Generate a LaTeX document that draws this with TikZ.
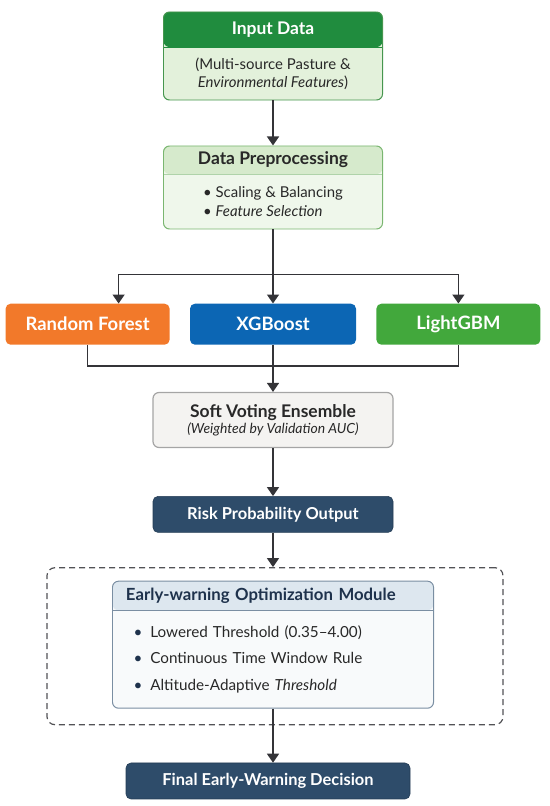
\documentclass[tikz,border=0pt]{standalone}
\usepackage{fontspec}
\setmainfont{Lato}
\definecolor{ingreen}{RGB}{32, 140, 62}
\definecolor{inbody}{RGB}{227, 241, 219}
\definecolor{inborder}{RGB}{70, 150, 78}
\definecolor{prehead}{RGB}{214, 234, 204}
\definecolor{prebody}{RGB}{239, 247, 235}
\definecolor{preborder}{RGB}{122, 182, 112}
\definecolor{rforange}{RGB}{242, 121, 42}
\definecolor{xgblue}{RGB}{12, 102, 180}
\definecolor{lggreen}{RGB}{66, 168, 60}
\definecolor{softfill}{RGB}{244, 243, 241}
\definecolor{softborder}{RGB}{165, 165, 165}
\definecolor{navy}{RGB}{46, 76, 106}
\definecolor{modhead}{RGB}{221, 231, 239}
\definecolor{modbody}{RGB}{248, 250, 251}
\definecolor{modborder}{RGB}{122, 142, 162}
\definecolor{modtext}{RGB}{30, 50, 76}
\definecolor{darktext}{RGB}{40, 40, 40}
\definecolor{linegray}{RGB}{52, 52, 56}
\usetikzlibrary{arrows.meta, positioning, fit}
\tikzset{
	card/.style={rectangle, rounded corners=6pt, line width=1pt, inner sep=0pt},
	headband/.style n args={3}{path picture={
		\fill[#1] (path picture bounding box.north west) rectangle ([yshift=-#2]path picture bounding box.north east);
		\draw[#3, line width=1pt] ([yshift=-#2]path picture bounding box.north west) -- ([yshift=-#2]path picture bounding box.north east);}},
	cardtitle/.style={inner sep=0pt, font=\bfseries\fontsize{17.5}{20}\selectfont},
	cardtext/.style={inner sep=0pt, text=darktext, font=\fontsize{15}{18.5}\selectfont},
	model/.style={rectangle, rounded corners=5pt, minimum height=41bp, text=white, font=\bfseries\fontsize{18.5}{22}\selectfont},
	darkbox/.style={rectangle, rounded corners=5pt, draw=navy!80!black, line width=0.6pt, fill=navy, minimum width=240bp, minimum height=36bp, text=white, font=\bfseries\fontsize{16.5}{19}\selectfont},
	zoneframe/.style={rectangle, rounded corners=8pt, draw=linegray!85, line width=1.2pt, dash pattern=on 6bp off 4bp, inner sep=0pt},
	arrow/.style={-{Triangle[length=9bp, width=12bp]}, line width=1.5pt, draw=linegray},
	link/.style={line width=1.5pt, draw=linegray},
}
\begin{document}
\begin{tikzpicture}[x=1bp, y=1bp, node distance=45bp and 20bp]
	\useasboundingbox (0,0) rectangle (550,-806);
	% input and preprocessing
	\node[card, draw=inborder, fill=inbody, headband={ingreen}{35bp}{ingreen}, minimum width=219bp, minimum height=88bp] (input) at (273,-56) {};
	\node[cardtitle, text=white, minimum height=35bp, below=0bp of input.north] (inputtitle) {Input Data};
	\node[cardtext, align=center, minimum height=53bp, below=0bp of inputtitle] (inputtext) {(Multi-source Pasture \&\\\textit{Environmental Features})};
	\node[card, draw=preborder, fill=prebody, headband={prehead}{28bp}{preborder!60}, minimum width=219bp, minimum height=83bp, below=of input] (prep) {};
	\node[cardtitle, text=darktext, minimum height=28bp, below=0bp of prep.north] (preptitle) {Data Preprocessing};
	\node[cardtext, align=left, minimum height=55bp, below=0bp of preptitle] (preptext) {\textbullet\ Scaling \& Balancing\\\textbullet\ \textit{Feature Selection}};
	% base models
	\node[model, fill=xgblue, minimum width=166bp, below=74bp of prep] (xgb) {XGBoost};
	\node[model, fill=rforange, minimum width=164bp, left=of xgb] (rf) {Random Forest};
	\node[model, fill=lggreen, minimum width=164bp, right=of xgb] (lgbm) {LightGBM};
	\coordinate (split) at ([yshift=-45bp]prep.south);
	\coordinate (merge) at ([yshift=-21bp]xgb.south);
	% ensemble and output
	\node[card, draw=softborder, fill=softfill, line width=1.2pt, minimum width=240bp, minimum height=55bp, align=center, text=darktext, below=47bp of xgb] (soft) {{\bfseries\fontsize{17.5}{20}\selectfont Soft Voting Ensemble}\\[1bp]{\fontsize{14}{16}\selectfont\itshape (Weighted by Validation AUC)}};
	\node[darkbox, below=48bp of soft] (risk) {Risk Probability Output};
	% early-warning module
	\node[card, draw=modborder, fill=modbody, headband={modhead}{29bp}{modborder}, minimum width=321bp, minimum height=127bp, below=48bp of risk] (module) {};
	\node[cardtitle, text=modtext, text width=290bp, align=left, minimum height=29bp, font=\bfseries\fontsize{16.8}{20}\selectfont, below=0bp of module.north, xshift=-2bp] (moduletitle) {Early-warning Optimization Module};
	\node[cardtext, text width=279bp, align=left, minimum height=98bp, font=\fontsize{15.3}{27}\selectfont, below=0bp of moduletitle, xshift=2bp] (moduletext) {{\color{modtext}\textbullet}\hspace{8bp}Lowered Threshold (0.35–4.00)\\{\color{modtext}\textbullet}\hspace{8bp}Continuous Time Window Rule\\{\color{modtext}\textbullet}\hspace{8bp}Altitude-Adaptive \textit{Threshold}};
	\node[zoneframe, fit={([xshift=-65bp, yshift=13bp]module.north west) ([xshift=69bp, yshift=-16bp]module.south east)}] (zone) {};
	\node[darkbox, minimum width=284bp, below=54bp of module, xshift=-5bp] (final) {Final Early-Warning Decision};
	% connectors
	\draw[arrow] (input) -- (prep);
	\draw[link] (prep.south) -- (split);
	\draw[arrow] (split) -- (xgb);
	\draw[arrow] (split) -| ([xshift=31bp]rf.north);
	\draw[arrow] (split) -| (lgbm.north);
	\draw[link] (rf.south) |- (merge);
	\draw[link] (lgbm.south) |- (merge);
	\draw[link] (xgb.south) -- (merge);
	\draw[arrow] (merge) -- (soft);
	\draw[arrow] (soft) -- (risk);
	\draw[arrow] (risk) -- (risk |- zone.north);
	\draw[arrow] (module.south) -- (module.south |- final.north);
\end{tikzpicture}
\end{document}
